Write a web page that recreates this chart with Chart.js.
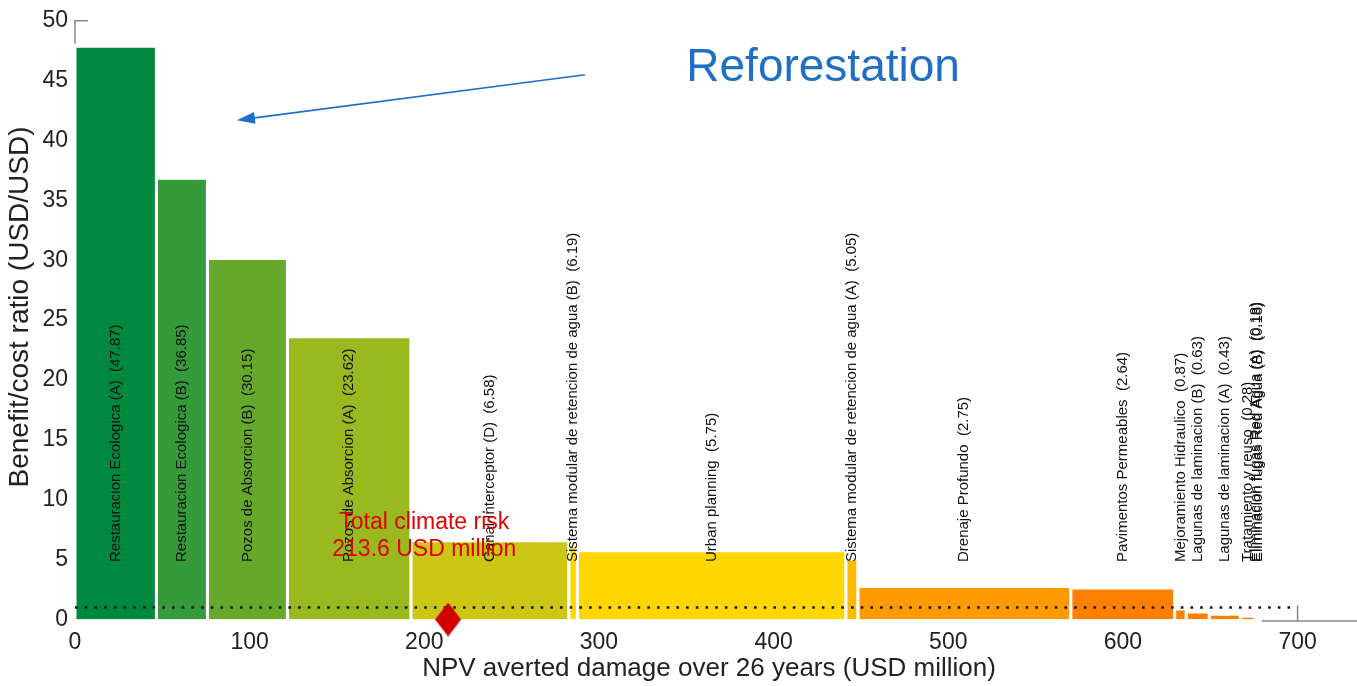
<!DOCTYPE html>
<html>
<head>
<meta charset="utf-8">
<script src="https://cdn.jsdelivr.net/npm/chart.js@4.4.1/dist/chart.umd.min.js"></script>
<style>
    html, body { margin: 0; padding: 0; background: #fff; overflow: hidden; }
    #wrap { position: relative; width: 1357px; height: 686px; }
    #wrap canvas { display: block; }
</style>
</head>
<body>
<div id="wrap"><canvas id="bcChart"></canvas></div>
<script>
// Measures, sorted by benefit/cost ratio
var measures = [
    'Restauracion Ecologica (A)', 'Restauracion Ecologica (B)', 'Pozos de Absorcion (B)',
    'Pozos de Absorcion (A)', 'Canal Interceptor (D)', 'Sistema modular de retencion de agua (B)',
    'Urban planning', 'Sistema modular de retencion de agua (A)', 'Drenaje Profundo',
    'Pavimentos Permeables', 'Mejoramiento Hidraulico', 'Lagunas de laminacion (B)',
    'Lagunas de laminacion (A)', 'Tratamiento y reuso', 'Eliminacion fugas Red Agua (A)',
    'Eliminacion fugas Red Agua (B)'
];
// Benefit/cost ratio (bar height)
var ratios = [47.87, 36.85, 30.15, 23.62, 6.58, 6.19, 5.75, 5.05, 2.75, 2.64, 0.87, 0.63, 0.43, 0.28, 0.18, 0.18];
// NPV averted damage, USD million (bar width)
var averted = [46.6, 29.2, 45.8, 70.7, 90.4, 4.9, 153.7, 6.9, 121.9, 59.5, 6.6, 13.2, 17.7, 8.6, 1.2, 0.8];
var barColors = [
    '#00893e', '#349a3a', '#66a92a', '#99b91f', '#ccc714', '#ffd600', '#ffd600', '#ffb900',
    '#ff9b00', '#ff8000', '#ff8000', '#ff8000', '#ff8000', '#ff8000', '#ff8000', '#ff8000'
];
var totalRisk = 213.6;
var breakEven = 1;

var FONT = '"Liberation Sans", Arial, sans-serif';

// cumulative start of each bar along the x axis
var starts = [];
var acc = 0;
averted.forEach(function (w) { starts.push(acc); acc += w; });

var barSets = measures.map(function (m, i) {
    var x0 = starts[i], x1 = starts[i] + averted[i];
    return {
        type: 'line',
        label: m,
        data: [{x: x0, y: 0}, {x: x0, y: ratios[i]}, {x: x1, y: ratios[i]}, {x: x1, y: 0}],
        backgroundColor: barColors[i],
        borderColor: '#ffffff',
        borderWidth: 3,
        borderJoinStyle: 'miter',
        fill: 'origin',
        pointRadius: 0,
        order: 5
    };
});

// red diamond marker
var diamond = document.createElement('canvas');
diamond.width = 26;
diamond.height = 34;
var dctx = diamond.getContext('2d');
dctx.fillStyle = '#d20000';
dctx.beginPath();
dctx.moveTo(13, 0);
dctx.lineTo(26, 17);
dctx.lineTo(13, 34);
dctx.lineTo(0, 17);
dctx.closePath();
dctx.fill();

var datasets = [{
    type: 'line',
    label: 'risk',
    data: [{x: totalRisk, y: 0}],
    pointStyle: diamond,
    pointRadius: 13,
    showLine: false,
    clip: false,
    order: 0
}, {
    type: 'line',
    label: 'break even',
    data: [{x: 0, y: breakEven}, {x: 700, y: breakEven}],
    borderColor: '#111',
    borderWidth: 2.6,
    borderDash: [2.6, 7.1],
    pointRadius: 0,
    fill: false,
    order: 1
}].concat(barSets);

var annotate = {
    id: 'annotate',
    afterDatasetsDraw: function (chart) {
        var ctx = chart.ctx, xs = chart.scales.x, ys = chart.scales.y;
        ctx.save();

        // rotated labels in each bar
        ctx.font = '15px ' + FONT;
        ctx.fillStyle = '#111';
        ctx.textAlign = 'left';
        ctx.textBaseline = 'middle';
        measures.forEach(function (m, i) {
            var cx = xs.getPixelForValue(starts[i] + averted[i] / 2);
            ctx.save();
            ctx.translate(cx, ys.getPixelForValue(4.8));
            ctx.rotate(-Math.PI / 2);
            ctx.fillText(m + '  (' + ratios[i].toFixed(2) + ')', 0, 0);
            ctx.restore();
        });

        // y axis title
        ctx.font = '28px ' + FONT;
        ctx.fillStyle = '#222';
        ctx.textAlign = 'center';
        ctx.save();
        ctx.translate(20, ys.getPixelForValue(26.1));
        ctx.rotate(-Math.PI / 2);
        ctx.fillText('Benefit/cost ratio (USD/USD)', 0, 0);
        ctx.restore();

        // total climate risk note
        ctx.font = '23px ' + FONT;
        ctx.fillStyle = '#e00000';
        ctx.textAlign = 'center';
        ctx.fillText('Total climate risk', xs.getPixelForValue(200), ys.getPixelForValue(8.1));
        ctx.fillText(totalRisk + ' USD million', xs.getPixelForValue(200), ys.getPixelForValue(5.8));

        // Reforestation callout
        ctx.font = '46px ' + FONT;
        ctx.fillStyle = '#1f6fc6';
        ctx.textAlign = 'left';
        ctx.textBaseline = 'alphabetic';
        ctx.fillText('Reforestation', xs.getPixelForValue(350), ys.getPixelForValue(45));

        var ax0 = xs.getPixelForValue(292), ay0 = ys.getPixelForValue(45.5);
        var ax1 = xs.getPixelForValue(92.7), ay1 = ys.getPixelForValue(41.7);
        var ang = Math.atan2(ay1 - ay0, ax1 - ax0);
        ctx.strokeStyle = '#1f6fc6';
        ctx.lineWidth = 1.6;
        ctx.beginPath();
        ctx.moveTo(ax0, ay0);
        ctx.lineTo(ax1 - 14 * Math.cos(ang), ay1 - 14 * Math.sin(ang));
        ctx.stroke();
        ctx.beginPath();
        ctx.moveTo(ax1, ay1);
        ctx.lineTo(ax1 - 18 * Math.cos(ang) + 6 * Math.sin(ang), ay1 - 18 * Math.sin(ang) - 6 * Math.cos(ang));
        ctx.lineTo(ax1 - 18 * Math.cos(ang) - 6 * Math.sin(ang), ay1 - 18 * Math.sin(ang) + 6 * Math.cos(ang));
        ctx.closePath();
        ctx.fillStyle = '#1f6fc6';
        ctx.fill();

        // remaining pieces of the axis box
        ctx.strokeStyle = '#888';
        ctx.lineWidth = 1.5;
        ctx.beginPath();
        ctx.moveTo(xs.getPixelForValue(0), ys.getPixelForValue(48.1));
        ctx.lineTo(xs.getPixelForValue(0), ys.getPixelForValue(50));
        ctx.lineTo(xs.getPixelForValue(7.4), ys.getPixelForValue(50));
        ctx.stroke();
        var by = ys.getPixelForValue(0) + 1.5;
        ctx.beginPath();
        ctx.moveTo(xs.getPixelForValue(679.5), by);
        ctx.lineTo(chart.width, by);
        ctx.moveTo(xs.getPixelForValue(700), by);
        ctx.lineTo(xs.getPixelForValue(700), ys.getPixelForValue(1.2));
        ctx.stroke();

        ctx.restore();
    }
};

var ctx = document.getElementById('bcChart').getContext('2d');
new Chart(ctx, {
    type: 'line',
    data: { datasets: datasets },
    options: {
        responsive: true,
        maintainAspectRatio: false,
        animation: false,
        layout: { padding: { top: 19, left: 0, right: 0, bottom: 0 } },
        plugins: {
            legend: { display: false },
            tooltip: { enabled: false }
        },
        scales: {
            x: {
                type: 'linear',
                min: 0,
                max: 726,
                grid: { display: false, drawTicks: false },
                border: { display: false },
                ticks: {
                    stepSize: 100,
                    includeBounds: false,
                    maxRotation: 0,
                    padding: 9,
                    color: '#222',
                    font: { family: FONT, size: 23 }
                },
                title: {
                    display: true,
                    text: 'NPV averted damage over 26 years (USD million)',
                    color: '#222',
                    padding: { top: 0, bottom: 2 },
                    font: { family: FONT, size: 26 }
                },
                afterFit: function (s) { s.height = 66.5; }
            },
            y: {
                min: 0,
                max: 50,
                grid: { display: false, drawTicks: false },
                border: { display: false },
                ticks: {
                    stepSize: 5,
                    padding: 7,
                    color: '#222',
                    font: { family: FONT, size: 23 }
                },
                afterFit: function (s) { s.width = 75; }
            }
        }
    },
    plugins: [annotate]
});
</script>
</body>
</html>
